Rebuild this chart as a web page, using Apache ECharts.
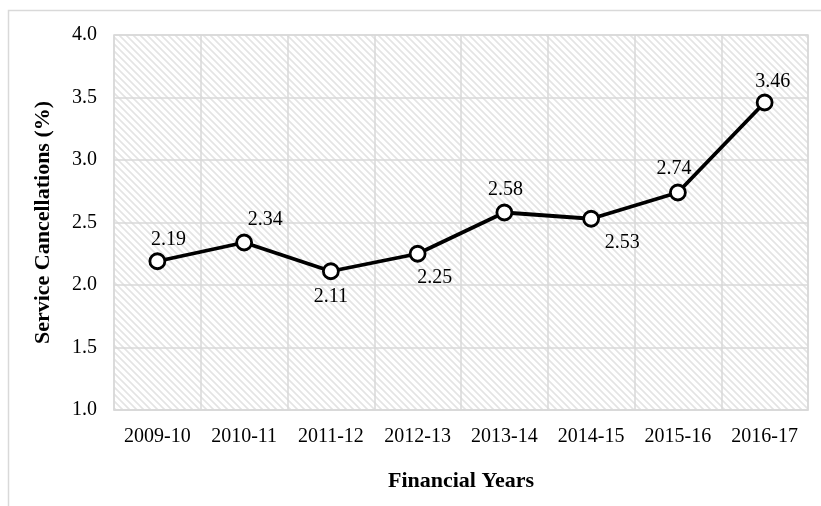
<!DOCTYPE html>
<html>
<head>
<meta charset="utf-8">
<script src="https://cdn.jsdelivr.net/npm/echarts@6/dist/echarts.min.js"></script>
<style>
  html, body { margin: 0; padding: 0; background: #ffffff; }
  #chart { width: 821px; height: 506px; }
</style>
</head>
<body>
<div id="chart"></div>
<script>
// Financial years on the category axis
const years = ['2009-10', '2010-11', '2011-12', '2012-13', '2013-14', '2014-15', '2015-16', '2016-17'];
// Service cancellations, percent
const cancellations = [2.19, 2.34, 2.11, 2.25, 2.58, 2.53, 2.74, 3.46];
// Value axis ticks
const yTicks = [1.0, 1.5, 2.0, 2.5, 3.0, 3.5, 4.0];
// Where each value label sits relative to its point [dx, dy]
const labelOffsets = [[11, -22], [21, -23], [0, 25], [17, 24], [1, -23], [31, 24], [-4, -24], [8, -21]];

const FONT = '"Liberation Serif", "Times New Roman", serif';
const GRID = '#d9d9d9';

// Diagonal hatch tile for the plot background
function hatchTile() {
  const s = 7;
  const c = document.createElement('canvas');
  c.width = s; c.height = s;
  const g = c.getContext('2d');
  g.fillStyle = '#ffffff';
  g.fillRect(0, 0, s, s);
  g.strokeStyle = '#e4e4e4';
  g.lineWidth = 1.6;
  g.beginPath();
  g.moveTo(-1, -1); g.lineTo(s + 1, s + 1);
  g.moveTo(-1, s - 1); g.lineTo(1, s + 1);
  g.moveTo(s - 1, -1); g.lineTo(s + 1, 1);
  g.stroke();
  return c;
}

const chart = echarts.init(document.getElementById('chart'), null, { renderer: 'canvas' });

chart.setOption({
  animation: false,
  backgroundColor: '#ffffff',
  graphic: [{
    type: 'rect',
    silent: true,
    shape: { x: 8.5, y: 10.5, width: 900, height: 600 },
    style: { fill: 'none', stroke: GRID, lineWidth: 1.5 }
  }],
  grid: {
    left: 114, right: 13, top: 35, bottom: 96,
    show: true,
    borderColor: GRID,
    borderWidth: 1.5,
    backgroundColor: { image: hatchTile(), repeat: 'repeat' }
  },
  xAxis: {
    type: 'category',
    data: years,
    boundaryGap: true,
    axisLine: { lineStyle: { color: GRID, width: 1.5 } },
    axisTick: { show: false },
    splitLine: { show: true, lineStyle: { color: GRID, width: 1.5 } },
    axisLabel: { color: '#000', fontFamily: FONT, fontSize: 20, margin: 17 },
    name: 'Financial Years',
    nameLocation: 'middle',
    nameGap: 60,
    nameTextStyle: { color: '#000', fontFamily: FONT, fontSize: 22, fontWeight: 'bold' }
  },
  yAxis: {
    type: 'value',
    min: yTicks[0],
    max: yTicks[yTicks.length - 1],
    interval: 0.5,
    axisLine: { show: false },
    axisTick: { show: false },
    splitLine: { show: true, lineStyle: { color: GRID, width: 1.5 } },
    axisLabel: {
      color: '#000', fontFamily: FONT, fontSize: 20, margin: 17,
      formatter: v => v.toFixed(1)
    },
    name: 'Service Cancellations (%)',
    nameLocation: 'middle',
    nameGap: 60,
    nameTextStyle: { color: '#000', fontFamily: FONT, fontSize: 22, fontWeight: 'bold' }
  },
  series: [{
    type: 'line',
    data: cancellations.map((v, i) => ({
      value: v,
      label: { offset: labelOffsets[i] }
    })),
    symbol: 'circle',
    symbolSize: 15,
    lineStyle: { color: '#000', width: 3.8 },
    itemStyle: { color: '#ffffff', borderColor: '#000', borderWidth: 2.8 },
    label: {
      show: true,
      position: 'inside',
      color: '#000',
      fontFamily: FONT,
      fontSize: 20,
      formatter: p => p.value.toFixed(2)
    },
    z: 5
  }]
});
</script>
</body>
</html>
